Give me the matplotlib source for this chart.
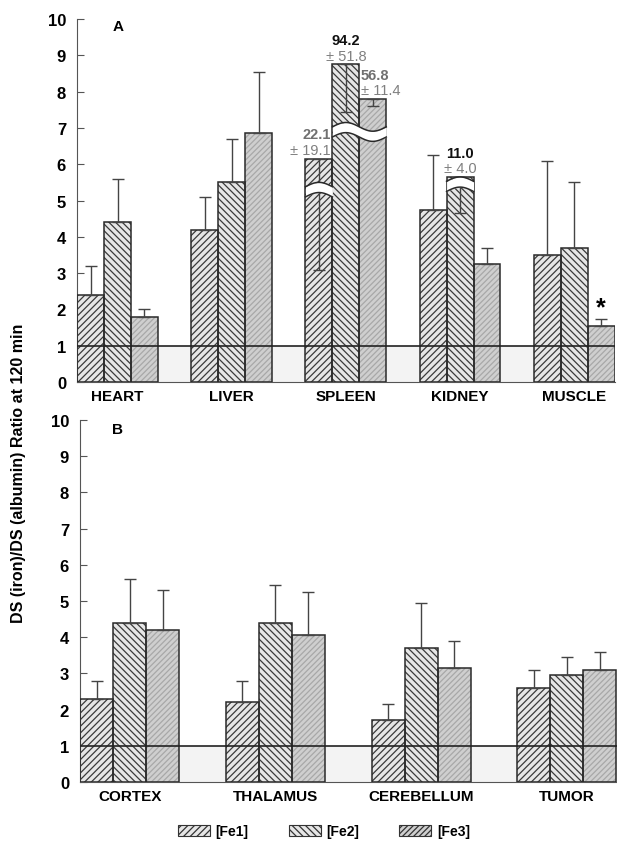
import matplotlib
matplotlib.use('Agg')
import matplotlib.pyplot as plt
import numpy as np
from matplotlib.patches import Patch

plt.rcParams['font.family'] = ['Liberation Sans', 'DejaVu Sans']
plt.rcParams['hatch.linewidth'] = 0.9

# ---- panel A data ----
organs_a = ['HEART', 'LIVER', 'SPLEEN', 'KIDNEY', 'MUSCLE']
fe1_a = [2.4, 4.2, 6.15, 4.75, 3.5]
fe2_a = [4.4, 5.5, 8.75, 5.65, 3.7]
fe3_a = [1.8, 6.85, 7.8, 3.25, 1.55]
# negative error = drawn downwards (broken bars)
err1_a = [0.8, 0.9, -3.05, 1.5, 2.6]
err2_a = [1.2, 1.2, -1.3, -1.0, 1.8]
err3_a = [0.2, 1.7, -0.2, 0.45, 0.18]

# broken bars: (group, first series, last series, level)
breaks_a = [(2, 0, 0, 5.1), (2, 1, 2, 6.75), (3, 1, 1, 5.25)]
# printed values for broken bars: (group, series, value, sd, bold)
notes_a = [(2, 0, '22.1', '± 19.1', False),
           (2, 1, '94.2', '± 51.8', True),
           (2, 2, '56.8', '± 11.4', False),
           (3, 1, '11.0', '± 4.0', True)]

# ---- panel B data ----
organs_b = ['CORTEX', 'THALAMUS', 'CEREBELLUM', 'TUMOR']
fe1_b = [2.3, 2.2, 1.7, 2.6]
fe2_b = [4.4, 4.4, 3.7, 2.95]
fe3_b = [4.2, 4.05, 3.15, 3.1]
err1_b = [0.5, 0.6, 0.45, 0.5]
err2_b = [1.2, 1.05, 1.25, 0.5]
err3_b = [1.1, 1.2, 0.75, 0.5]

series = ['[Fe1]', '[Fe2]', '[Fe3]']
faces = ['#e6e6e6', '#e6e6e6', '#cfcfcf']
hatches = ['/////', '\\\\\\\\\\', '//////']
hatch_cols = ['#3a3a3a', '#3a3a3a', '#a8a8a8']
edge = '#2a2a2a'


def draw_panel(ax, names, vals, errs, spacing, label):
    x0 = np.arange(len(names)) * spacing
    ax.axhspan(0, 1, color='#f3f3f3', zorder=0, lw=0)
    for k in range(3):
        xs = x0 + k + 0.5
        v = np.array(vals[k])
        e = np.array(errs[k])
        ax.bar(xs, v, width=1, facecolor=faces[k], hatch=hatches[k],
               edgecolor=hatch_cols[k], lw=0, zorder=2)
        ax.bar(xs, v, width=1, fill=False, edgecolor=edge, lw=1.1, zorder=3)
        up = np.clip(e, 0, None)
        dn = np.clip(-e, 0, None)
        ax.errorbar(xs, v, yerr=[dn, up], fmt='none', ecolor='#444444',
                    elinewidth=1, capsize=4, capthick=1, zorder=3)
    ax.axhline(1, color='#222222', lw=1.2, zorder=6)
    ax.set_ylim(0, 10)
    ax.set_xlim(0, (len(names) - 1) * spacing + 3.02)
    ax.set_yticks(range(11))
    ax.set_yticklabels([str(i) for i in range(11)], fontsize=12,
                       fontweight='bold')
    ax.tick_params(axis='y', direction='in', length=5, pad=8, color='#555555')
    ax.set_xticks(x0 + 1.5)
    ax.set_xticklabels(names, fontsize=11, fontweight='bold')
    ax.tick_params(axis='x', length=0, pad=5)
    for s in ['top', 'right']:
        ax.spines[s].set_visible(False)
    ax.spines['left'].set_color('#555555')
    ax.spines['bottom'].set_color('#555555')
    ax.text(label[1], label[2], label[0], transform=ax.transAxes,
            fontsize=11, fontweight='bold', ha='center', va='center')
    return x0


def wave_break(ax, xl, xr, level, gap=0.28, amp=0.12):
    xx = np.linspace(xl, xr, 60)
    w = amp * np.sin(np.pi * (xx - xl))
    ax.fill_between(xx, level + w, level + gap + w, color='white', lw=0,
                    zorder=5)
    ax.plot(xx, level + w, color=edge, lw=1.1, zorder=5)
    ax.plot(xx, level + gap + w, color=edge, lw=1.1, zorder=5)


fig = plt.figure(figsize=(6.17, 8.45), dpi=100)
ax1 = fig.add_axes([0.125, 0.5467, 0.872, 0.4296])
ax2 = fig.add_axes([0.130, 0.0734, 0.870, 0.4284])

sp_a = 4.24
x0a = draw_panel(ax1, organs_a, [fe1_a, fe2_a, fe3_a],
                 [err1_a, err2_a, err3_a], sp_a, ('A', 0.076, 0.98))
vals_a = [fe1_a, fe2_a, fe3_a]
for g, k1, k2, lev in breaks_a:
    wave_break(ax1, x0a[g] + k1, x0a[g] + k2 + 1, lev)
for g, k, val, sd, bold in notes_a:
    top = vals_a[k][g]
    if k == 0:
        xc, ha = x0a[g] + k + 0.95, 'right'
    elif k == 2:
        xc, ha = x0a[g] + k + 0.05, 'left'
    else:
        xc, ha = x0a[g] + k + 0.5, 'center'
    ax1.text(xc, top + 0.67, val, ha=ha, va='center', fontsize=10.5,
             fontweight='bold', color='#111111' if bold else '#707070',
             zorder=8)
    ax1.text(xc, top + 0.24, sd, ha=ha, va='center', fontsize=10.5,
             color='#808080', zorder=8)
ax1.text(x0a[4] + 2.5, 2.05, '*', ha='center', va='center', fontsize=18,
         fontweight='bold')

sp_b = 4.42
draw_panel(ax2, organs_b, [fe1_b, fe2_b, fe3_b],
           [err1_b, err2_b, err3_b], sp_b, ('B', 0.069, 0.975))

fig.text(0.03, 0.44, 'DS (iron)/DS (albumin) Ratio at 120 min',
         rotation=90, ha='center', va='center', fontsize=11.5,
         fontweight='bold')

handles = [Patch(facecolor=faces[k], hatch=hatches[k], edgecolor='#333333',
                 lw=0.8, label=series[k]) for k in range(3)]
fig.legend(handles=handles, loc='center', bbox_to_anchor=(0.525, 0.015),
           ncol=3, frameon=False, handlelength=2.3, handleheight=0.9,
           handletextpad=0.4, columnspacing=2.9,
           prop={'weight': 'bold', 'size': 10})

fig.savefig('out.png', dpi=100)
